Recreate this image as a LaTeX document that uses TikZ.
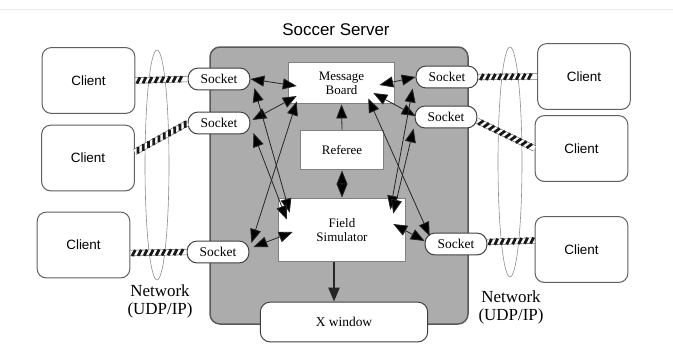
\documentclass[tikz,border=0pt]{standalone}
\usepackage{fontspec}
\setmainfont{Liberation Serif}
\newfontfamily\guifont{Liberation Sans}
\usepackage{tikz}
\usetikzlibrary{arrows.meta,calc,decorations.markings}

\definecolor{serverfill}{RGB}{172,172,172}
\definecolor{edgegray}{RGB}{95,95,95}

\tikzset{
  client/.style={draw=edgegray, line width=1pt, rounded corners=9pt, fill=white,
    minimum width=93pt, minimum height=66pt, font=\guifont\fontsize{13.5}{15}\selectfont},
  socket/.style={draw=black!75, line width=1pt, rounded corners=10pt, fill=white,
    minimum width=62pt, minimum height=22pt, inner sep=0pt, font=\fontsize{13.5}{15}\selectfont},
  module/.style={draw=black!50, line width=1pt, fill=white, inner sep=0pt, align=center,
    font=\fontsize{13}{14}\selectfont},
  link/.style={draw=black!85, line width=0.8pt,
    {Triangle[length=14pt,width=11pt,fill=black]}-{Triangle[length=14pt,width=11pt,fill=black]}},
  hatch/.style={draw=black!60, line width=0.6pt, double=white, double distance=5pt,
    postaction={decorate, decoration={markings,
      mark=between positions 0.06 and 0.97 step 6pt with
        {\draw[line width=2.8pt, black!90] (-1.6pt,-3pt) -- (1.6pt,3pt);}}}},
  net/.style={draw=black!45, line width=0.6pt},
  netlabel/.style={align=center, font=\fontsize{17}{18}\selectfont}
}

\begin{document}
\begin{tikzpicture}[x=1bp, y=-1bp]
        \useasboundingbox (0,0) rectangle (673,346);
        \draw[black!8] (0,9) -- (673,9);

        % the server
        \draw[draw=black!65, fill=serverfill, line width=1.5pt, rounded corners=10pt] (210,47) rectangle (468,324);
        \node[font=\guifont\fontsize{17}{20}\selectfont] (title) at (336,30) {Soccer Server};

        \node[module, minimum width=107pt, minimum height=42pt] (mb) at (341.5,83) {Message\\Board};
        \node[module, minimum width=84pt, minimum height=40pt] (ref) at (342,150) {Referee};
        \node[module, minimum width=128pt, minimum height=64pt] (fs) at (342,230) {Field\\Simulator};
        \node[socket, minimum width=168pt, minimum height=40pt] (xw) at (344,322) {X window};

        % networks
        \draw[net] (157,165) ellipse [x radius=12, y radius=115];
        \draw[net] (510,162) ellipse [x radius=12, y radius=115];
        \node[netlabel] (netl) at (160,301) {Network\\(UDP/IP)};
        \node[netlabel] (netr) at (511,307) {Network\\(UDP/IP)};

        % clients
        \node[client] (cl1) at (88.5,80.5) {Client};
        \node[client] (cl2) at (88,158) {Client};
        \node[client] (cl3) at (83.5,245) {Client};
        \node[client] (cr1) at (584,76.5) {Client};
        \node[client] (cr2) at (581.5,148.5) {Client};
        \node[client] (cr3) at (581.5,249.5) {Client};

        % sockets
        \node[socket] (sl1) at (219,79) {Socket};
        \node[socket] (sl2) at (219,123) {Socket};
        \node[socket] (sl3) at (218,252) {Socket};
        \node[socket] (sr1) at (447,77) {Socket};
        \node[socket] (sr2) at (446,117) {Socket};
        \node[socket] (sr3) at (456,244) {Socket};

        \draw[hatch] (cl1.east) -- (sl1.west);
        \draw[hatch] ($(cl2.east)+(0,-6)$) -- (sl2.west);
        \draw[hatch] ($(cl3.east)+(0,8)$) -- (sl3.west);
        \draw[hatch] (sr1.east) -- (cr1.west);
        \draw[hatch] ($(sr2.east)+(0,4)$) -- (cr2.west);
        \draw[hatch] ($(sr3.east)+(0,-2)$) -- ($(cr3.west)+(0,-9)$);

        % left sockets
        \draw[link] (sl1.east) -- ($(mb.west)+(9,3)$);
        \draw[link] ($(sl2.east)+(2,-3)$) -- ($(mb.west)+(9,13)$);
        \draw[link] ($(sl1.east)+(4,9)$) -- ($(fs.north west)+(12,15)$);
        \draw[link] ($(sl2.east)+(3,10)$) -- ($(fs.north west)+(9,22)$);
        \draw[link] ($(mb.south west)+(9,-3)$) -- ($(sl3.east)+(2,-9)$);
        \draw[link] ($(sl3.east)+(4,-5)$) -- ($(fs.west)+(15,2)$);

        % right sockets
        \draw[link] (sr1.west) -- ($(mb.east)+(-16,2)$);
        \draw[link] ($(sr2.west)+(1,-1)$) -- ($(mb.east)+(-22,10)$);
        \draw[link] ($(sr1.south west)+(-3,0)$) -- ($(fs.north east)+(-16,12)$);
        \draw[link] ($(sr2.south west)+(-1,0)$) -- ($(fs.north east)+(-13,16)$);
        \draw[link] ($(mb.south east)+(-27,-6)$) -- ($(sr3.west)+(5,-8)$);
        \draw[link] ($(fs.east)+(-13,-6)$) -- ($(sr3.west)+(0,-3)$);

        % inside the server
        \draw[draw=black!85, line width=0.8pt, -{Triangle[length=14pt,width=11pt,fill=black]}] (ref.north) -- (mb.south);
        \draw[link] (ref.south) -- (fs.north);
        \draw[line width=2.5pt, black!85, -{Triangle[length=14pt,width=11pt]}] ($(fs.south)+(-8,0)$) -- ($(xw.north)+(-10,0)$);
\end{tikzpicture}
\end{document}
